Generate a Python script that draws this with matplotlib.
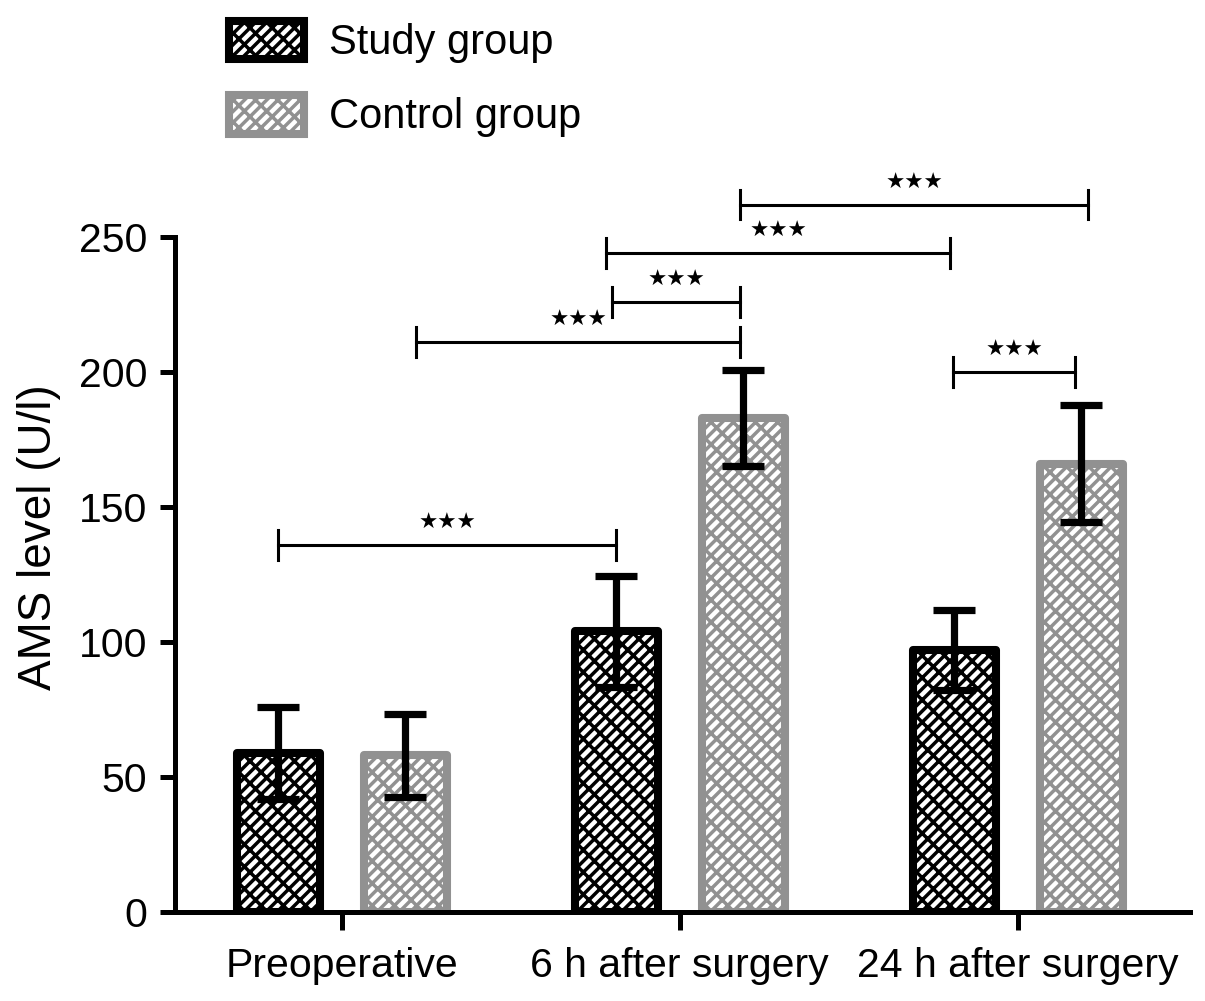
import numpy as np
import matplotlib
matplotlib.use("Agg")
import matplotlib.pyplot as plt

# ---- data ----
categories = ["Preoperative", "6 h after surgery", "24 h after surgery"]
study_mean = [59, 104, 97]
study_sd = [17, 20.5, 14.8]
control_mean = [58, 183, 166]
control_sd = [15.5, 17.8, 21.7]

# significance brackets: left x, right x (in category units), height (U/l)
sig_x1 = [-0.188, 0.220, 0.800, 0.783, 1.179, 1.809]
sig_x2 = [0.812, 1.179, 1.179, 1.800, 2.208, 2.170]
sig_y = [136, 211, 226, 244, 262, 200]
sig_label = ["★★★"] * 6

# render at 200 dpi; sizes below are given as if at 100 dpi and scaled by K
DPI = 200
K = 100 / DPI

plt.rcParams["font.family"] = ["Liberation Sans", "DejaVu Sans"]
plt.rcParams["hatch.linewidth"] = 2.5 * K

fig = plt.figure(figsize=(1205 / DPI, 1001 / DPI), dpi=DPI)
ax = fig.add_axes([0.1452, 0.0889, 0.9876 - 0.1452, 0.7632 - 0.0889])

x = np.arange(len(categories))
offset = 0.188
width = 0.245
gray = "#919191"
hatch = "//////\\\\\\"   # dense "/" with sparser "\" -> brick-like

b1 = ax.bar(x - offset, study_mean, width, color="white", edgecolor="black",
            linewidth=5.8 * K, hatch=hatch, label="Study group", zorder=2)
b2 = ax.bar(x + offset, control_mean, width, color="white", edgecolor=gray,
            linewidth=5.8 * K, hatch=hatch, label="Control group", zorder=2)
for b in list(b1) + list(b2):
    b.set_joinstyle("round")

ax.errorbar(x - offset, study_mean, yerr=study_sd, fmt="none", ecolor="black",
            elinewidth=5.2 * K, capsize=15 * K, capthick=5.2 * K, zorder=3)
ax.errorbar(x + offset, control_mean, yerr=control_sd, fmt="none", ecolor="black",
            elinewidth=5.2 * K, capsize=15 * K, capthick=5.2 * K, zorder=3)

# brackets
for x1, x2, y, lab in zip(sig_x1, sig_x2, sig_y, sig_label):
    ax.plot([x1, x2], [y, y], color="black", lw=2.2 * K, clip_on=False, zorder=4)
    ax.plot([x1, x1], [y - 5.5, y + 5.5], color="black", lw=2.2 * K, clip_on=False, zorder=4)
    ax.plot([x2, x2], [y - 5.5, y + 5.5], color="black", lw=2.2 * K, clip_on=False, zorder=4)
    ax.text((x1 + x2) / 2, y + 4.5, lab, ha="center", va="bottom", fontsize=15.5 * K,
            family="DejaVu Sans", clip_on=False)

ax.set_xlim(-0.494, 2.51)
ax.set_ylim(0, 250)
ax.set_yticks([0, 50, 100, 150, 200, 250])
ax.set_xticks(x)
ax.set_xticklabels(categories)
ax.set_ylabel("AMS level (U/l)", fontsize=33 * K)
ax.yaxis.set_label_coords(-0.112, 0.556)

for s in ["top", "right"]:
    ax.spines[s].set_visible(False)
for s in ["left", "bottom"]:
    ax.spines[s].set_linewidth(3.6 * K)
ax.tick_params(axis="both", length=11 * K, width=3.6 * K, labelsize=29.5 * K, pad=9 * K)
ax.tick_params(axis="x", length=13 * K, pad=12 * K)

fig.legend(handles=[b1, b2], loc="upper left", bbox_to_anchor=(212 / 1205, 1 - 4 / 1001),
           frameon=False, fontsize=30 * K, handlelength=1.8, handleheight=1.05,
           labelspacing=0.76, handletextpad=0.6, borderaxespad=0)

fig.savefig("out.png", dpi=DPI)
